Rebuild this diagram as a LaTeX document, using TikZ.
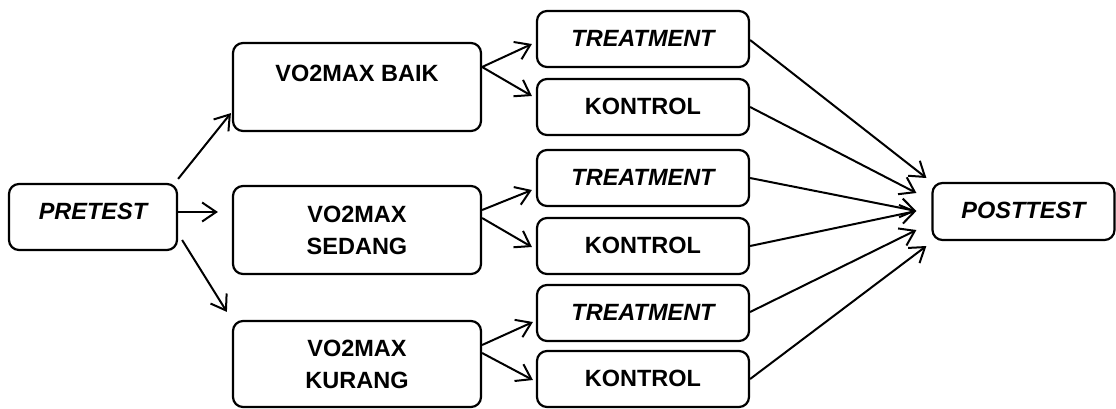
\documentclass[tikz,border=0pt]{standalone}
\usepackage{fontspec}
\setmainfont{Liberation Sans}
\usetikzlibrary{arrows.meta,calc}
\begin{document}
\begin{tikzpicture}[x=1pt,y=-1pt,
  box/.style={draw,line width=2.2pt,rounded corners=10pt,inner sep=0pt,
    font=\fontsize{23.5}{32}\selectfont\bfseries,align=center},
  arr/.style={line width=2pt,-{Straight Barb[length=14pt,width=19pt,line width=2pt]}}]
\useasboundingbox (0,0) rectangle (1116,408);
\node[box,minimum width=168pt,text height=35pt,text depth=31pt] (pre) at (93,217) {\itshape PRETEST};
\node[box,minimum width=248pt,text height=38pt,text depth=50pt] (baik) at (357,87) {VO2MAX BAIK};
\node[box,minimum width=248pt,minimum height=88pt] (sedang) at (357,230) {VO2MAX\\SEDANG};
\node[box,minimum width=248pt,minimum height=86pt] (kurang) at (357,364) {VO2MAX\\KURANG};
\node[box,minimum width=212pt,text height=35pt,text depth=21pt] (t1) at (643,39) {\itshape TREATMENT};
\node[box,minimum width=212pt,text height=35pt,text depth=21pt] (k1) at (643,107) {KONTROL};
\node[box,minimum width=212pt,text height=35pt,text depth=21pt] (t2) at (643,178) {\itshape TREATMENT};
\node[box,minimum width=212pt,text height=35pt,text depth=21pt] (k2) at (643,246) {KONTROL};
\node[box,minimum width=212pt,text height=35pt,text depth=21pt] (t3) at (643,313) {\itshape TREATMENT};
\node[box,minimum width=212pt,text height=35pt,text depth=21pt] (k3) at (643,379) {KONTROL};
\node[box,minimum width=182pt,text height=35pt,text depth=22pt] (post) at (1023.5,211.5) {\itshape POSTTEST};
% pretest arrows
\draw[arr] ($(pre.north east)+(0,-4)$) -- ($(baik.south west)+(-1,-19)$);
\draw[arr] ($(pre.east)+(0,-5)$) -- ($(sedang.west)+(-14,-18)$);
\draw[arr] ($(pre.east)+(4,23)$) -- ($(kurang.north west)+(-5,-8)$);
% forks
\draw[arr] ($(baik.east)+(0,-20)$) -- ($(t1.west)+(-4,5)$);
\draw[arr] ($(baik.east)+(0,-20)$) -- ($(k1.west)+(-4,-11)$);
\draw[arr] ($(sedang.east)+(0,-20)$) -- ($(t2.west)+(-4,12)$);
\draw[arr] ($(sedang.east)+(0,-12)$) -- ($(k2.west)+(-4,1)$);
\draw[arr] ($(kurang.east)+(0,-19)$) -- ($(t3.west)+(-3,9)$);
\draw[arr] ($(kurang.east)+(0,-11)$) -- ($(k3.west)+(-3,1)$);
% to posttest
\draw[arr] ($(t1.east)+(0,1)$) -- ($(post.west)+(-5,-33.5)$);
\draw[arr] (k1.east) -- ($(post.west)+(-15,-18.5)$);
\draw[arr] (t2.east) -- ($(post.west)+(-15,-0.5)$);
\draw[arr] (k2.east) -- ($(post.west)+(-15,-0.5)$);
\draw[arr] ($(t3.east)+(0,-1)$) -- ($(post.west)+(-15,18.5)$);
\draw[arr] (k3.east) -- ($(post.west)+(-5,34.5)$);
\end{tikzpicture}
\end{document}
